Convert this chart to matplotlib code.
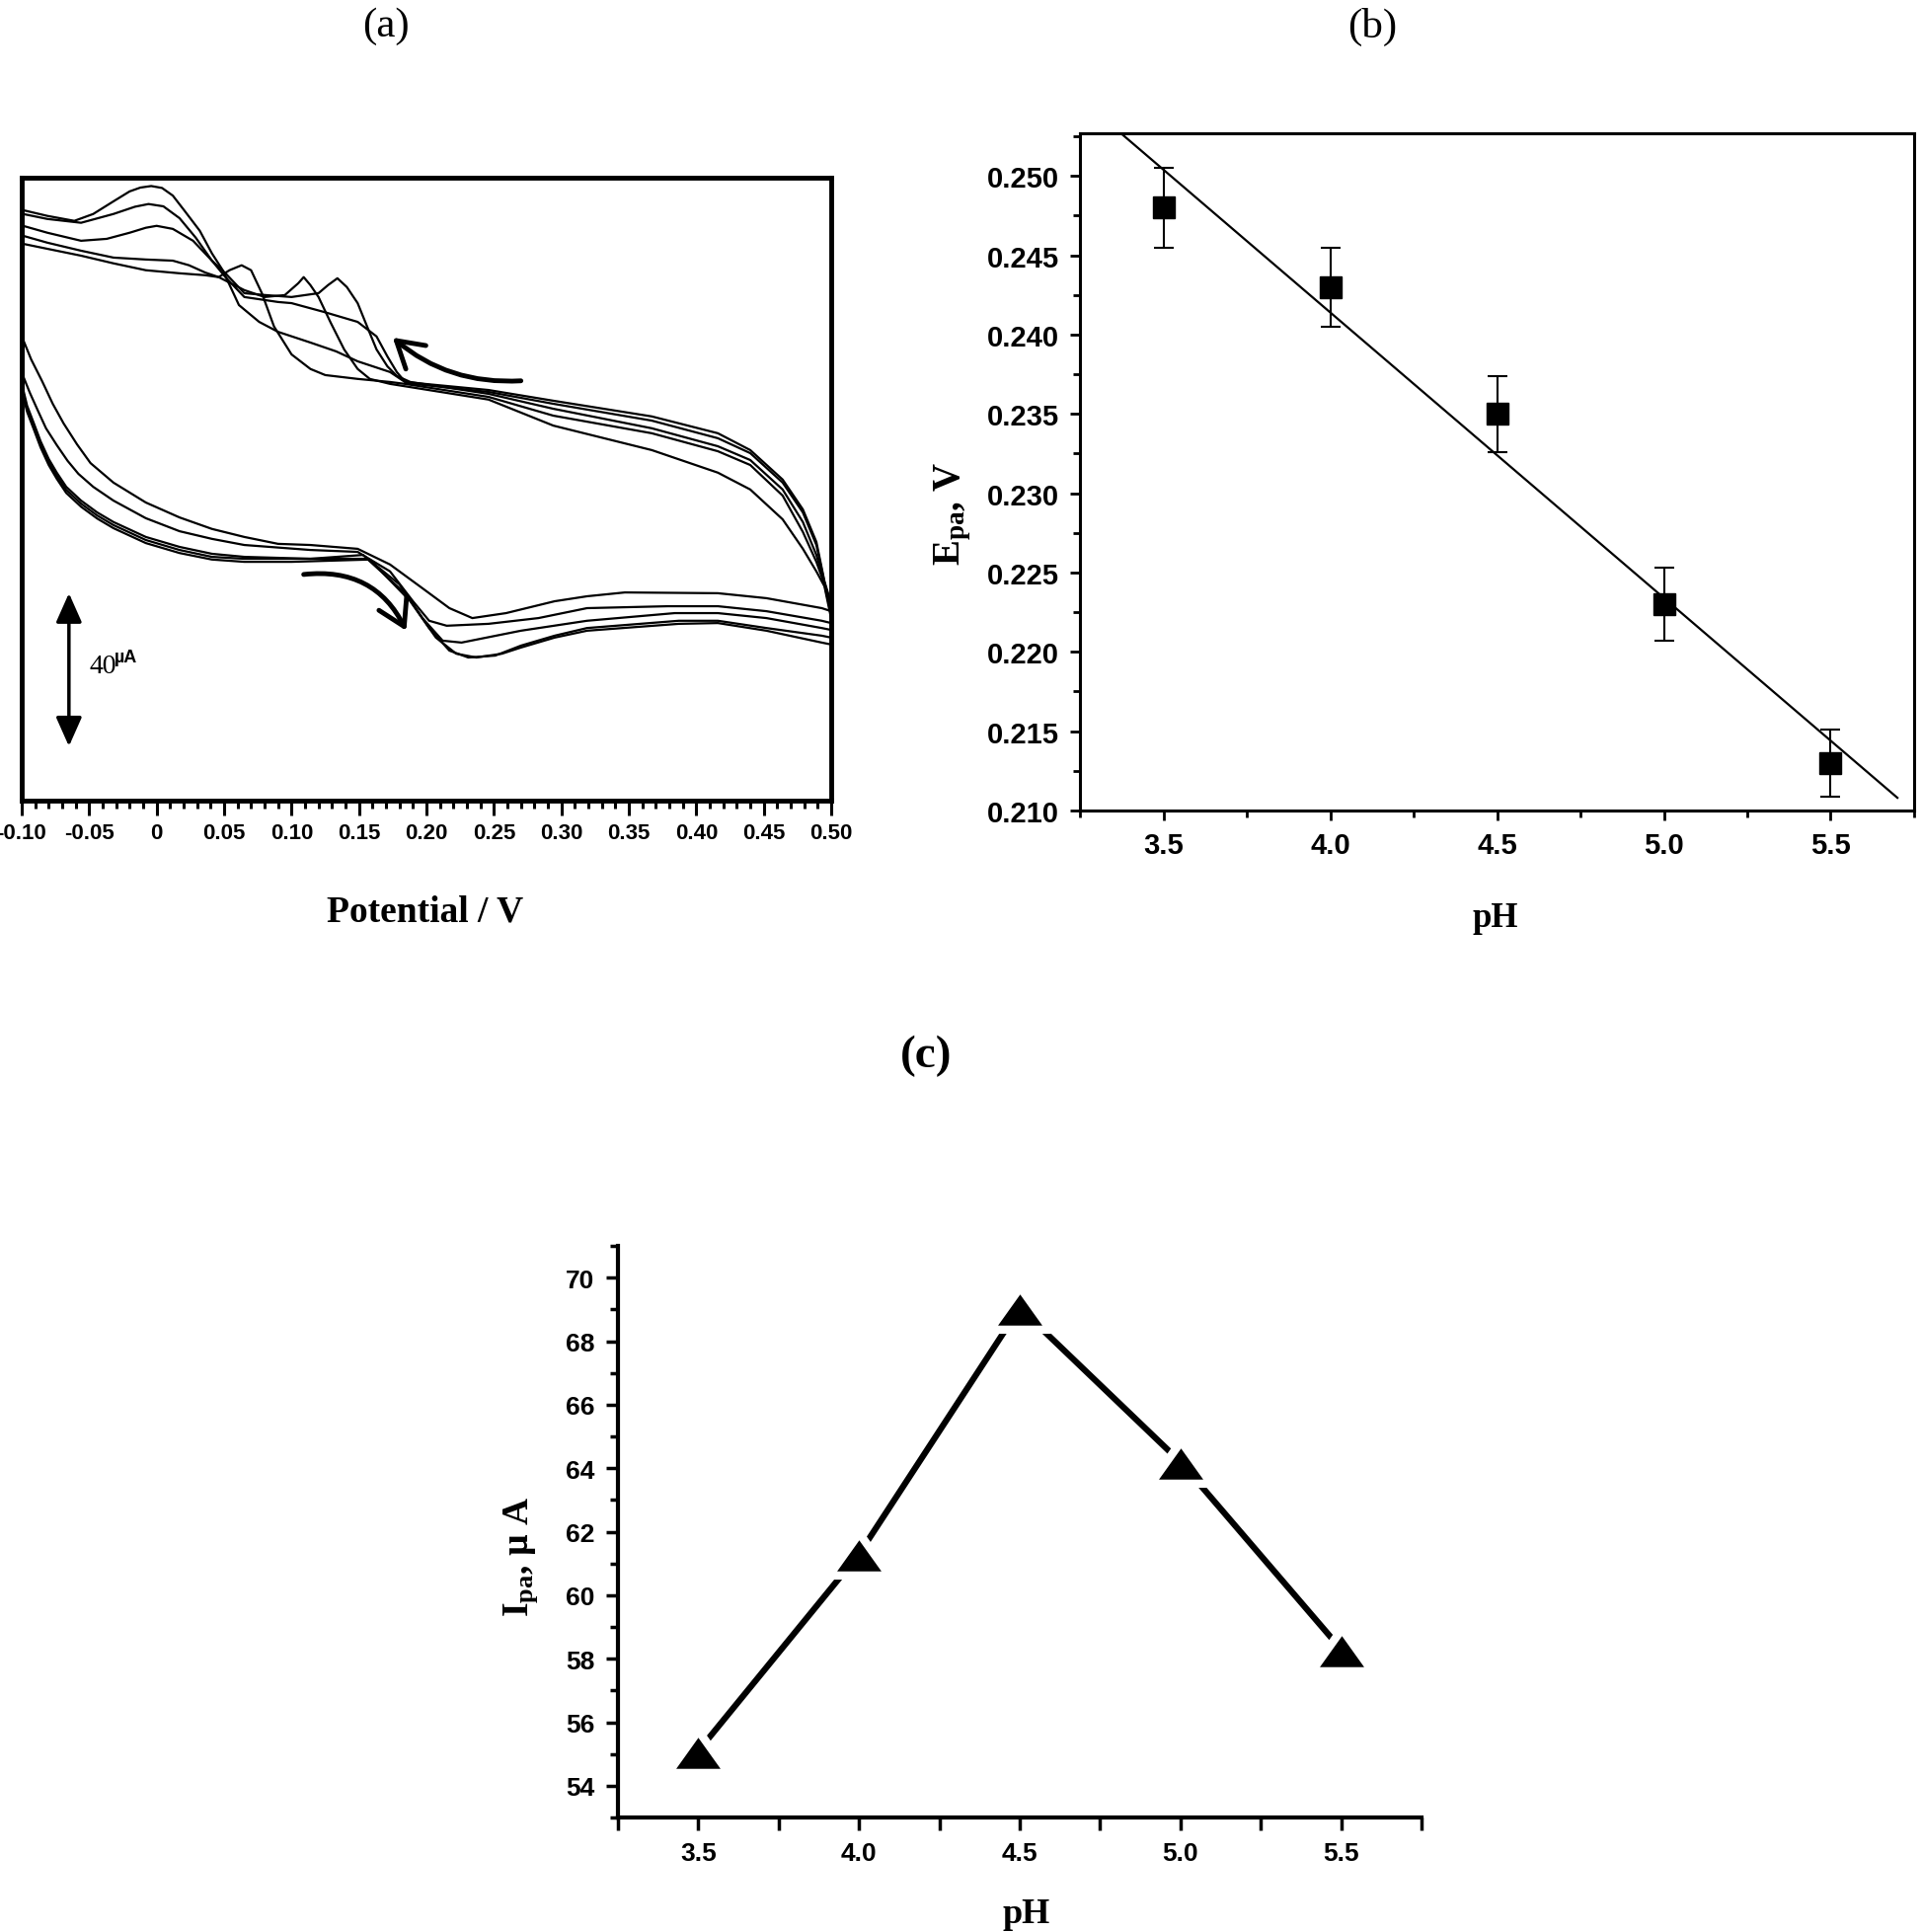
import numpy as np
import matplotlib
matplotlib.use('Agg')
import matplotlib.pyplot as plt
from matplotlib.ticker import MultipleLocator
from matplotlib.patches import FancyArrowPatch

plt.rcParams['font.family'] = ['Liberation Sans', 'DejaVu Sans']
plt.rcParams['mathtext.fontset'] = 'custom'
plt.rcParams['mathtext.rm'] = 'Liberation Serif:bold'
plt.rcParams['mathtext.bf'] = 'Liberation Serif:bold'

# ---------------- (a) cyclic voltammograms, 5 pH values ----------------
# potential in V, current in uA; both branches listed from -0.10 V to 0.50 V
cv1_up_E = [-0.099, -0.081, -0.061, -0.047, -0.032, -0.020, -0.012, -0.004, 0.004, 0.012, 0.021, 0.032, 0.041,
            0.049, 0.061, 0.076, 0.090, 0.114, 0.133, 0.149, 0.173, 0.184, 0.246, 0.294, 0.367, 0.416, 0.440,
            0.464, 0.479, 0.489, 0.495, 0.500]
cv1_up_I = [73.8, 72.3, 71.0, 72.8, 76.1, 78.7, 79.7, 80.1, 79.6, 77.6, 73.5, 68.4, 62.5,
            58.1, 49.0, 44.6, 42.0, 39.2, 36.9, 34.3, 31.5, 28.9, 26.8, 24.0, 19.9, 15.5, 11.1,
            3.4, -4.4, -12.9, -23.2, -29.0]
cv1_dn_E = [-0.099, -0.093, -0.085, -0.077, -0.069, -0.059, -0.049, -0.032, -0.008, 0.017, 0.041, 0.065, 0.090,
            0.114, 0.149, 0.173, 0.197, 0.217, 0.234, 0.259, 0.295, 0.319, 0.347, 0.416, 0.452, 0.493, 0.500]
cv1_dn_I = [40.0, 34.8, 29.2, 23.2, 18.1, 12.6, 7.7, 2.6, -2.6, -6.5, -9.5, -11.6, -13.4,
            -13.7, -14.7, -18.8, -25.0, -30.2, -32.8, -31.5, -28.4, -27.1, -26.1, -26.3, -27.6, -30.2, -31.0]

cv2_up_E = [-0.099, -0.081, -0.056, -0.032, -0.016, -0.006, 0.005, 0.017, 0.029, 0.041, 0.051, 0.065, 0.090,
            0.100, 0.124, 0.149, 0.163, 0.171, 0.178, 0.185, 0.246, 0.294, 0.367, 0.416, 0.440, 0.464,
            0.479, 0.489, 0.495, 0.500]
cv2_up_I = [72.8, 71.5, 70.5, 72.8, 74.7, 75.4, 74.8, 71.7, 66.6, 60.6, 56.3, 51.1, 49.8,
            49.5, 47.2, 44.6, 40.8, 35.6, 31.5, 28.6, 26.3, 23.2, 18.8, 14.2, 10.3, 2.6,
            -5.2, -13.7, -23.5, -30.0]
cv2_dn_E = [-0.099, -0.094, -0.088, -0.082, -0.074, -0.066, -0.058, -0.047, -0.032, -0.008, 0.017, 0.041, 0.065,
            0.114, 0.149, 0.173, 0.190, 0.202, 0.215, 0.246, 0.283, 0.319, 0.379, 0.416, 0.452, 0.493, 0.500]
cv2_dn_I = [30.5, 26.1, 21.4, 16.8, 12.4, 8.3, 4.9, 1.5, -2.1, -6.7, -10.1, -12.1, -13.7,
            -15.0, -15.5, -20.6, -28.4, -33.5, -34.8, -34.3, -32.8, -30.2, -29.7, -29.7, -31.0, -33.5, -34.1]

cv3_up_E = [-0.099, -0.081, -0.056, -0.037, -0.020, -0.008, 0.000, 0.012, 0.027, 0.041, 0.051, 0.065, 0.081,
            0.100, 0.120, 0.127, 0.134, 0.141, 0.149, 0.156, 0.163, 0.171, 0.178, 0.188, 0.246, 0.294,
            0.367, 0.416, 0.440, 0.464, 0.479, 0.489, 0.495, 0.500]
cv3_up_I = [69.7, 67.9, 65.8, 66.3, 67.9, 69.2, 69.7, 68.9, 65.8, 60.6, 57.3, 52.1, 51.6,
            51.1, 52.1, 54.2, 56.0, 53.7, 49.5, 43.4, 37.4, 33.0, 30.5, 28.9, 25.8, 21.9,
            16.8, 12.1, 8.5, 0.8, -7.7, -16.3, -23.7, -31.0]
cv3_dn_E = [-0.099, -0.096, -0.091, -0.086, -0.080, -0.074, -0.067, -0.056, -0.044, -0.032, -0.008, 0.017, 0.041,
            0.065, 0.114, 0.153, 0.180, 0.197, 0.212, 0.226, 0.270, 0.319, 0.384, 0.416, 0.452, 0.493, 0.500]
cv3_dn_I = [27.1, 22.7, 18.1, 13.4, 8.8, 5.2, 1.5, -2.1, -5.2, -7.7, -11.6, -14.2, -16.0,
            -16.8, -17.3, -16.3, -24.0, -32.8, -38.7, -39.2, -36.1, -33.5, -31.5, -31.5, -32.8, -35.4, -35.9]

cv4_up_E = [-0.099, -0.081, -0.056, -0.032, -0.008, 0.012, 0.024, 0.036, 0.046, 0.054, 0.063, 0.070, 0.078,
            0.087, 0.100, 0.114, 0.125, 0.149, 0.173, 0.184, 0.246, 0.294, 0.367, 0.416, 0.440, 0.464,
            0.479, 0.489, 0.495, 0.500]
cv4_up_I = [67.1, 65.3, 63.2, 61.4, 60.9, 60.6, 59.4, 57.5, 56.3, 58.1, 59.4, 58.1, 52.1,
            43.4, 36.1, 32.3, 30.7, 29.7, 28.9, 28.4, 25.0, 20.1, 15.5, 10.8, 7.2, -0.8,
            -10.3, -18.1, -24.0, -32.0]
cv4_dn_E = [-0.099, -0.096, -0.091, -0.086, -0.080, -0.074, -0.067, -0.056, -0.044, -0.032, -0.008, 0.017, 0.041,
            0.065, 0.100, 0.156, 0.185, 0.202, 0.217, 0.231, 0.251, 0.270, 0.295, 0.319, 0.387, 0.416, 0.452,
            0.493, 0.500]
cv4_dn_I = [26.3, 21.9, 17.3, 12.6, 8.0, 4.4, 0.7, -2.9, -6.0, -8.5, -12.4, -15.0, -16.8,
            -17.3, -17.3, -17.3, -26.6, -35.4, -41.3, -43.1, -42.6, -40.0, -37.4, -35.4, -33.5, -33.5, -35.4,
            -37.4, -37.9]

cv5_up_E = [-0.099, -0.081, -0.056, -0.032, -0.008, 0.017, 0.036, 0.046, 0.065, 0.080, 0.095, 0.105, 0.109,
            0.114, 0.120, 0.129, 0.139, 0.149, 0.158, 0.173, 0.246, 0.294, 0.367, 0.416, 0.440, 0.464,
            0.479, 0.489, 0.495, 0.500]
cv5_up_I = [65.0, 63.7, 61.9, 59.9, 58.1, 57.3, 56.8, 56.3, 52.9, 51.1, 51.6, 54.7, 56.3,
            54.2, 51.1, 44.4, 37.4, 32.3, 29.7, 28.4, 24.3, 17.5, 11.1, 5.2, 0.8, -7.0,
            -14.7, -20.6, -24.5, -33.0]
cv5_dn_E = [-0.099, -0.096, -0.091, -0.086, -0.080, -0.074, -0.067, -0.056, -0.044, -0.032, -0.008, 0.017, 0.041,
            0.065, 0.100, 0.158, 0.188, 0.207, 0.222, 0.237, 0.256, 0.270, 0.295, 0.319, 0.387, 0.416, 0.452,
            0.493, 0.500]
cv5_dn_I = [25.3, 21.1, 16.5, 11.8, 7.2, 3.6, -0.1, -3.7, -6.8, -9.3, -13.2, -15.8, -17.5,
            -18.1, -18.1, -17.5, -28.4, -37.9, -42.1, -43.1, -42.1, -40.5, -37.9, -36.1, -34.3, -34.1, -36.1,
            -39.2, -39.7]

a_xticks = [-0.10, -0.05, 0.0, 0.05, 0.10, 0.15, 0.20, 0.25, 0.30, 0.35, 0.40, 0.45, 0.50]
a_xticklabels = ['-0.10', '-0.05', '0', '0.05', '0.10', '0.15', '0.20', '0.25', '0.30', '0.35', '0.40', '0.45', '0.50']

# ---------------- (b) peak potential vs pH ----------------
b_ph = [3.5, 4.0, 4.5, 5.0, 5.5]
b_epa = [0.248, 0.243, 0.235, 0.223, 0.213]
b_err = [0.0025, 0.0025, 0.0024, 0.0023, 0.0021]
b_fit_ph = [3.37, 5.70]
b_yticks = [0.210, 0.215, 0.220, 0.225, 0.230, 0.235, 0.240, 0.245, 0.250]

# ---------------- (c) peak current vs pH ----------------
c_ph = [3.5, 4.0, 4.5, 5.0, 5.5]
c_ipa = [55.1, 61.3, 69.05, 64.2, 58.3]

fig = plt.figure(figsize=(19.46, 19.58), dpi=100)

# ===== panel (a) =====
axa = fig.add_axes([0.0113, 0.5853, 0.4214, 0.3223])
curves = [(cv1_up_E, cv1_up_I, cv1_dn_E, cv1_dn_I),
          (cv2_up_E, cv2_up_I, cv2_dn_E, cv2_dn_I),
          (cv3_up_E, cv3_up_I, cv3_dn_E, cv3_dn_I),
          (cv4_up_E, cv4_up_I, cv4_dn_E, cv4_dn_I),
          (cv5_up_E, cv5_up_I, cv5_dn_E, cv5_dn_I)]
for upE, upI, dnE, dnI in curves:
    E = upE[::-1] + dnE + [upE[-1]]
    I = upI[::-1] + dnI + [upI[-1]]
    axa.plot(E, I, color='k', lw=1.6, solid_joinstyle='round')

axa.set_xlim(-0.10, 0.50)
axa.set_ylim(-80.5, 82.3)
axa.set_yticks([])
axa.set_xticks(a_xticks, a_xticklabels)
axa.xaxis.set_minor_locator(MultipleLocator(0.01))
axa.tick_params(axis='x', which='major', direction='out', length=11, width=2.2, pad=5)
axa.tick_params(axis='x', which='minor', direction='out', length=6, width=2.2)
for lab in axa.get_xticklabels():
    lab.set_family(['Liberation Sans Narrow', 'Liberation Sans'])
    lab.set_fontweight('bold')
    lab.set_fontsize(16)
for s in axa.spines.values():
    s.set_linewidth(3.5)

# scan direction arrows
arr_up = FancyArrowPatch((0.270, 29.2), (0.175, 40.5), connectionstyle='arc3,rad=-0.2',
                         arrowstyle='->,head_length=0.75,head_width=0.45', mutation_scale=25,
                         lw=3.5, color='k', shrinkA=0, shrinkB=0)
axa.add_patch(arr_up)
arr_dn = FancyArrowPatch((0.109, -21.4), (0.185, -36.1), connectionstyle='arc3,rad=-0.35',
                         arrowstyle='->,head_length=0.75,head_width=0.45', mutation_scale=25,
                         lw=3.5, color='k', shrinkA=0, shrinkB=0)
axa.add_patch(arr_dn)

# 40 uA scale bar
axa.annotate('', xy=(-0.065, -26.3), xytext=(-0.065, -66.3),
             arrowprops=dict(arrowstyle='<|-|>,head_length=0.72,head_width=0.32', mutation_scale=25,
                             lw=2.5, color='k', shrinkA=0, shrinkB=0))
axa.text(-0.050, -45.2, '40', family='Liberation Serif', fontsize=20, ha='left', va='center')
axa.text(-0.031, -43.0, 'µA', family='Liberation Sans', fontweight='bold', fontsize=13, ha='left', va='center')

fig.text(0.2214, 0.528, 'Potential / V', family='Liberation Serif', fontweight='bold', fontsize=27,
         ha='center', va='center')
fig.text(0.2009, 0.9862, '(a)', family='Liberation Serif', fontsize=31, ha='center', va='center')

# ===== panel (b) =====
axb = fig.add_axes([0.5622, 0.5802, 0.4342, 0.3504])
axb.errorbar(b_ph, b_epa, yerr=b_err, fmt='s', color='k', ms=16, capsize=7,
             elinewidth=1.5, capthick=1.5, zorder=3)
coef = np.polyfit(b_ph, b_epa, 1)
axb.plot(b_fit_ph, np.polyval(coef, b_fit_ph), color='k', lw=1.6)
axb.set_xlim(3.25, 5.75)
axb.set_ylim(0.210, 0.2527)
axb.set_xticks(b_ph, ['%.1f' % v for v in b_ph])
axb.set_yticks(b_yticks, ['%.3f' % v for v in b_yticks])
axb.xaxis.set_minor_locator(MultipleLocator(0.25))
axb.yaxis.set_minor_locator(MultipleLocator(0.0025))
axb.tick_params(which='both', direction='out', width=2, top=False, right=False)
axb.tick_params(which='major', length=7, labelsize=21, pad=8)
axb.tick_params(which='minor', length=5)
for lab in axb.get_xticklabels() + axb.get_yticklabels():
    lab.set_fontweight('bold')
for s in axb.spines.values():
    s.set_linewidth(2.2)

fig.text(0.7785, 0.525, 'pH', family='Liberation Serif', fontweight='bold', fontsize=25,
         ha='center', va='center')
fig.text(0.496, 0.7344, r'$\mathbf{E_{pa}}$, V', family='Liberation Serif', fontweight='bold', fontsize=28,
         rotation=90, ha='center', va='center')
fig.text(0.7143, 0.9862, '(b)', family='Liberation Serif', fontsize=31, ha='center', va='center')

# ===== panel (c) =====
axc = fig.add_axes([0.3217, 0.0592, 0.4183, 0.2957])
tri = [(-0.5, -0.35), (0.5, -0.35), (0.0, 0.35), (-0.5, -0.35)]
axc.plot(c_ph, c_ipa, color='k', lw=4.5, marker=tri, ms=44, mfc='k', mec='w', mew=6)
axc.set_xlim(3.25, 5.75)
axc.set_ylim(53, 71)
axc.set_xticks(c_ph, ['%.1f' % v for v in c_ph])
axc.yaxis.set_major_locator(MultipleLocator(2))
axc.xaxis.set_minor_locator(MultipleLocator(0.25))
axc.yaxis.set_minor_locator(MultipleLocator(1))
axc.tick_params(which='both', direction='out', width=2.5)
axc.tick_params(axis='x', which='both', length=9)
axc.tick_params(axis='y', which='major', length=9)
axc.tick_params(axis='y', which='minor', length=6)
axc.tick_params(which='major', labelsize=19, pad=8)
for lab in axc.get_xticklabels() + axc.get_yticklabels():
    lab.set_fontweight('bold')
axc.spines['top'].set_visible(False)
axc.spines['right'].set_visible(False)
axc.spines['left'].set_linewidth(3)
axc.spines['bottom'].set_linewidth(3)

fig.text(0.534, 0.0095, 'pH', family='Liberation Serif', fontweight='bold', fontsize=26,
         ha='center', va='center')
fig.text(0.2713, 0.1946, r'$\mathbf{I_{pa}}$, µ A', family='Liberation Serif', fontweight='bold', fontsize=27,
         rotation=90, ha='center', va='center')
fig.text(0.482, 0.4535, '(c)', family='Liberation Serif', fontweight='bold', fontsize=34,
         ha='center', va='center')

fig.savefig('out.png', dpi=100)
